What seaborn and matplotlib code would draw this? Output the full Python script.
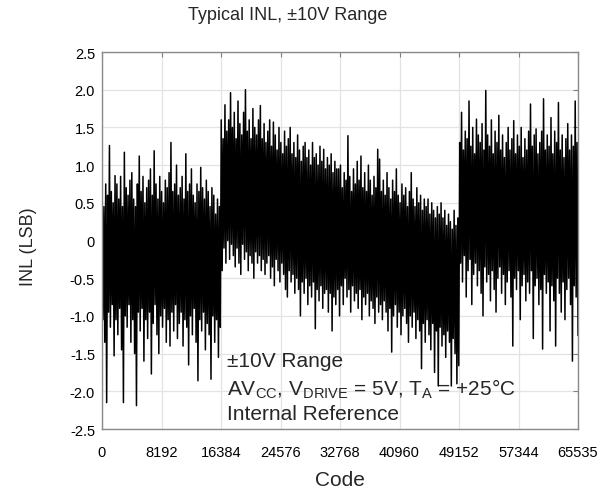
import matplotlib
matplotlib.use('Agg')
import matplotlib.pyplot as plt
import numpy as np
import pandas as pd
import seaborn as sns

# INL local peaks (highs) and troughs (lows),
# 64 of each per quarter of the code range
q1_high = [0.7, 0.45, 0.75, 0.6, 1.26, 0.65, 0.5, 0.86, 0.75, 0.55, 0.85, 0.45, 1.17, 0.7, 0.6, 0.8,
           0.9, 0.55, 0.45, 0.75, 1.12, 0.65, 0.85, 0.5, 0.7, 0.8, 0.95, 0.6, 1.19, 0.75, 0.55, 0.85,
           0.65, 0.5, 0.8, 0.7, 0.9, 1.3, 0.65, 0.75, 1.0, 0.6, 0.7, 0.85, 0.55, 1.15, 0.65, 0.75,
           0.95, 0.6, 0.5, 0.75, 0.65, 0.97, 0.7, 0.55, 0.8, 0.65, 0.45, 0.7, 0.6, 0.35, 0.55, 0.45]
q1_low = [-1.05, -1.35, -2.15, -0.95, -1.15, -0.85, -1.53, -1.05, -1.25, -0.9, -1.45, -2.15, -1.0, -1.15, -0.85, -1.35,
          -1.05, -1.5, -2.19, -0.95, -1.2, -0.9, -1.6, -1.05, -1.3, -0.95, -1.77, -1.1, -0.85, -1.25, -1.5, -1.0,
          -1.15, -0.9, -1.35, -1.05, -1.4, -0.95, -1.2, -0.85, -1.3, -1.1, -0.95, -1.4, -1.05, -1.15, -1.65, -1.0,
          -1.25, -0.9, -1.35, -1.86, -1.05, -1.2, -0.95, -1.45, -1.1, -1.25, -1.84, -1.0, -1.35, -1.05, -1.55, -1.15]
q2_high = [1.6, 1.35, 1.8, 1.45, 1.6, 1.96, 1.5, 1.7, 1.35, 1.85, 1.55, 1.4, 1.7, 2.0, 1.45, 1.6,
           1.35, 1.75, 1.5, 1.4, 1.6, 1.79, 1.35, 1.55, 1.3, 1.45, 1.6, 1.25, 1.57, 1.4, 1.2, 1.5,
           1.3, 1.15, 1.45, 1.25, 1.35, 1.5, 1.15, 1.3, 1.1, 1.4, 1.2, 1.05, 1.25, 1.3, 1.1, 1.2,
           1.0, 1.3, 1.1, 1.15, 1.0, 1.25, 1.05, 1.21, 0.95, 1.1, 1.0, 1.15, 0.9, 1.05, 0.95, 0.95]
q2_low = [-0.4, -0.1, -0.3, 0.0, -0.25, -0.05, -0.2, -0.35, -0.1, -0.3, -0.45, -0.05, -0.25, -0.15, -0.4, -0.2,
          -0.3, -0.5, -0.15, -0.3, -0.2, -0.4, -0.25, -0.45, -0.3, -0.2, -0.5, -0.35, -0.6, -0.25, -0.4, -0.55,
          -0.3, -0.45, -0.65, -0.75, -0.4, -0.55, -0.45, -0.7, -0.5, -0.65, -1.0, -0.55, -0.7, -0.5, -0.85, -0.6,
          -0.75, -0.55, -1.17, -0.65, -0.8, -0.6, -0.9, -0.7, -0.65, -0.95, -0.7, -1.2, -0.75, -0.85, -0.65, -1.0]
q3_high = [1.0, 0.7, 0.9, 0.8, 1.39, 0.85, 0.65, 0.95, 0.75, 1.05, 0.8, 1.12, 0.7, 0.9, 0.65, 1.0,
           0.8, 0.6, 0.85, 0.7, 1.21, 1.08, 0.65, 0.8, 0.6, 0.9, 0.7, 0.55, 0.8, 0.65, 0.95, 0.6,
           0.5, 0.75, 0.6, 0.7, 0.45, 0.65, 0.9, 0.55, 0.45, 0.7, 0.5, 0.6, 0.4, 0.55, 0.45, 0.55,
           0.35, 0.5, 0.4, 0.3, 0.45, 0.35, 0.5, 0.3, 0.4, 0.2, 0.35, 0.25, 0.15, 0.4, 0.2, 0.3]
q3_low = [-0.6, -0.85, -0.5, -0.75, -0.65, -0.95, -0.6, -0.8, -0.7, -0.9, -0.65, -1.05, -0.75, -0.85, -0.7, -1.0,
          -0.8, -0.9, -1.1, -0.75, -0.95, -0.85, -1.05, -0.8, -0.95, -1.2, -0.9, -1.48, -1.0, -0.85, -1.15, -0.95,
          -1.25, -1.0, -0.9, -1.1, -1.35, -1.0, -1.15, -0.95, -1.3, -1.05, -1.2, -1.7, -1.1, -1.35, -1.05, -1.25,
          -1.45, -1.1, -1.75, -1.2, -1.93, -1.15, -1.4, -1.25, -1.55, -1.2, -1.35, -1.93, -1.3, -1.5, -1.9, -1.66]
q4_high = [1.3, 1.7, 1.2, 1.45, 1.35, 1.85, 1.25, 1.5, 1.15, 1.61, 1.4, 1.3, 1.55, 1.2, 1.99, 1.4,
           1.25, 1.6, 1.15, 1.45, 1.3, 1.66, 1.2, 1.4, 1.1, 1.3, 1.5, 1.2, 1.35, 1.59, 1.15, 1.4,
           1.25, 1.5, 1.1, 1.35, 1.2, 1.45, 1.81, 1.25, 1.4, 1.48, 1.15, 1.3, 1.45, 1.88, 1.2, 1.4,
           1.25, 1.63, 1.15, 1.45, 1.3, 1.83, 1.2, 1.4, 1.1, 1.35, 1.55, 1.2, 1.4, 1.25, 1.85, 1.3]
q4_low = [-0.3, -0.55, -0.2, -0.75, -0.4, -0.25, -0.85, -0.45, -0.3, -0.6, -0.4, -0.7, -1.0, -0.35, -0.55, -0.45,
          -0.8, -0.4, -0.65, -0.95, -0.5, -0.35, -0.7, -0.45, -0.85, -0.55, -0.4, -0.75, -1.4, -0.5, -0.65, -0.4,
          -1.05, -0.6, -0.45, -0.8, -0.55, -0.7, -0.4, -1.3, -0.6, -0.5, -0.85, -0.65, -1.44, -0.45, -0.7, -0.55,
          -1.2, -0.6, -0.8, -1.4, -0.5, -0.7, -0.95, -0.55, -1.05, -0.65, -0.5, -0.85, -1.6, -0.6, -0.75, -1.26]

x_ticks = [0, 8192, 16384, 24576, 32768, 40960, 49152, 57344, 65535]
y_ticks = [-2.5, -2.0, -1.5, -1.0, -0.5, 0, 0.5, 1.0, 1.5, 2.0, 2.5]
y_labels = ['-2.5', '-2.0', '-1.5', '-1.0', '-0.5', '0', '0.5', '1.0', '1.5', '2.0', '2.5']

highs = q1_high + q2_high + q3_high + q4_high
lows = q1_low + q2_low + q3_low + q4_low
inl = []
for h, l in zip(highs, lows):
    inl += [h, l]
codes = np.linspace(0, 65535, len(inl))
df = pd.DataFrame({'Code': codes, 'INL (LSB)': inl})

sns.set_theme(style='white')
plt.rcParams['font.family'] = ['Liberation Sans', 'DejaVu Sans']
plt.rcParams['mathtext.fontset'] = 'custom'
plt.rcParams['mathtext.rm'] = 'Liberation Sans'

fig = plt.figure(figsize=(6.08, 5.02), dpi=100)
ax = fig.add_axes([102/608, 1-430/502, 476/608, 377/502])

ax.grid(True, color='#e3e3e3', linewidth=0.9)
ax.set_axisbelow(True)
sns.lineplot(data=df, x='Code', y='INL (LSB)', color='black', linewidth=1.1,
             estimator=None, sort=False, ax=ax)

ax.set_xlim(0, 65535)
ax.set_ylim(-2.5, 2.5)
ax.set_xticks(x_ticks)
ax.set_xticklabels([str(t) for t in x_ticks])
ax.set_yticks(y_ticks)
ax.set_yticklabels(y_labels)
ax.tick_params(direction='in', top=True, right=True, length=3.5, width=0.8, color='#808080',
               labelsize=10.5, labelcolor='black')
ax.tick_params(axis='x', pad=11.5)
ax.tick_params(axis='y', pad=5)
for s in ax.spines.values():
    s.set_color('#8a8a8a')
    s.set_linewidth(1.0)

ax.set_xlabel('Code', fontsize=15)
ax.xaxis.set_label_coords(0.5, -0.109)
ax.set_ylabel('INL (LSB)', fontsize=13)
ax.yaxis.set_label_coords(-0.1366, 0.485)
fig.text(288/608, 1-15/502, 'Typical INL, \u00b110V Range', fontsize=13, ha='center', va='center')

ax.text(0.2626, 0.167, '\u00b110V Range', fontsize=15, transform=ax.transAxes, va='baseline')
ax.text(0.2626, 0.093, 'AV$_{\\mathregular{CC}}$, V$_{\\mathregular{DRIVE}}$ = 5V, T$_{\\mathregular{A}}$ = +25\u00b0C',
        fontsize=15, transform=ax.transAxes, va='baseline')
ax.text(0.2626, 0.0265, 'Internal Reference', fontsize=15, transform=ax.transAxes, va='baseline')

fig.savefig('out.png', dpi=100)
